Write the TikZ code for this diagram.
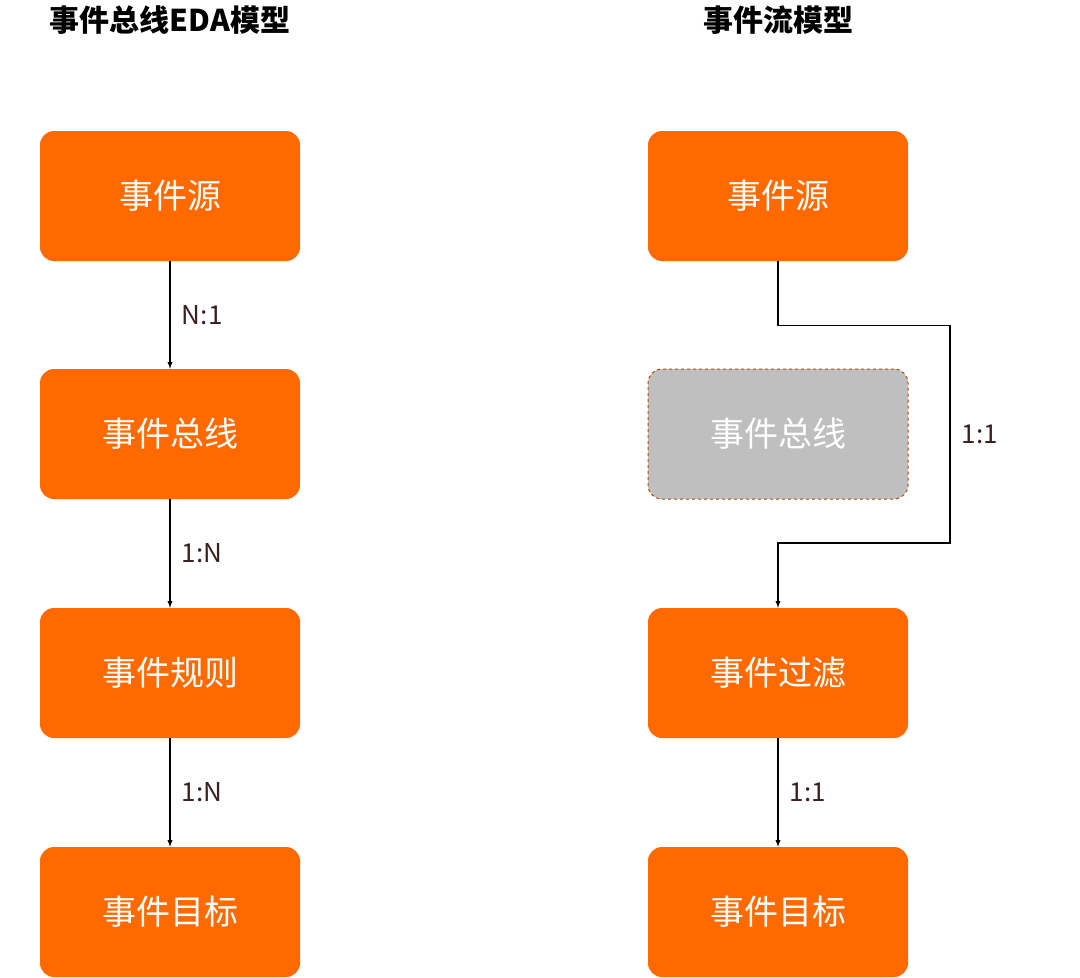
\documentclass[tikz,border=0pt]{standalone}
\usepackage{fontspec}
\setmainfont{Noto Sans CJK SC}
\usetikzlibrary{positioning}
\definecolor{evorange}{HTML}{FF6A00}
\definecolor{evgray}{HTML}{BFBFBF}
\definecolor{evlabel}{HTML}{3A2020}
\begin{document}
\begin{tikzpicture}[x=1pt,y=-1pt,
  evbox/.style={rectangle,rounded corners=14pt,fill=evorange,minimum width=260pt,minimum height=130pt,text=white,font=\fontsize{34}{40}\selectfont},
  evghost/.style={evbox,fill=evgray,draw=evorange!70!black,dashed,line width=1pt},
  evlink/.style={draw,line width=1.3pt,-latex},
  evtag/.style={text=evlabel,font=\fontsize{26}{30}\selectfont},
  evtitle/.style={font=\fontsize{30}{36}\selectfont\bfseries}]
\useasboundingbox (0,0) rectangle (1080,978);
\begin{scope}
  \node[evtitle] (lt) at (170,20) {事件总线EDA模型};
  \node[evbox] (lsrc) at (170,196) {事件源};
  \node[evbox] (lbus) at (170,434) {事件总线};
  \node[evbox] (lrule) at (170,673) {事件规则};
  \node[evbox] (ltgt) at (170,912) {事件目标};
\end{scope}
\begin{scope}
  \node[evtitle] (rt) at (778,20) {事件流模型};
  \node[evbox] (rsrc) at (778,196) {事件源};
  \node[evghost] (rbus) at (778,434) {事件总线};
  \node[evbox] (rfilt) at (778,673) {事件过滤};
  \node[evbox] (rtgt) at (778,912) {事件目标};
\end{scope}
\path[evlink] (lsrc) -- node[evtag,right=8pt] {N:1} (lbus);
\path[evlink] (lbus) -- node[evtag,right=8pt] {1:N} (lrule);
\path[evlink] (lrule) -- node[evtag,right=8pt] {1:N} (ltgt);
\path[evlink] (rfilt) -- node[evtag,right=8pt] {1:1} (rtgt);
\path[evlink] (rsrc.south) -- ++(0,64) -| (950,434) node[evtag,right=8pt] {1:1} |- (778,543) -- (rfilt.north);
\end{tikzpicture}
\end{document}
